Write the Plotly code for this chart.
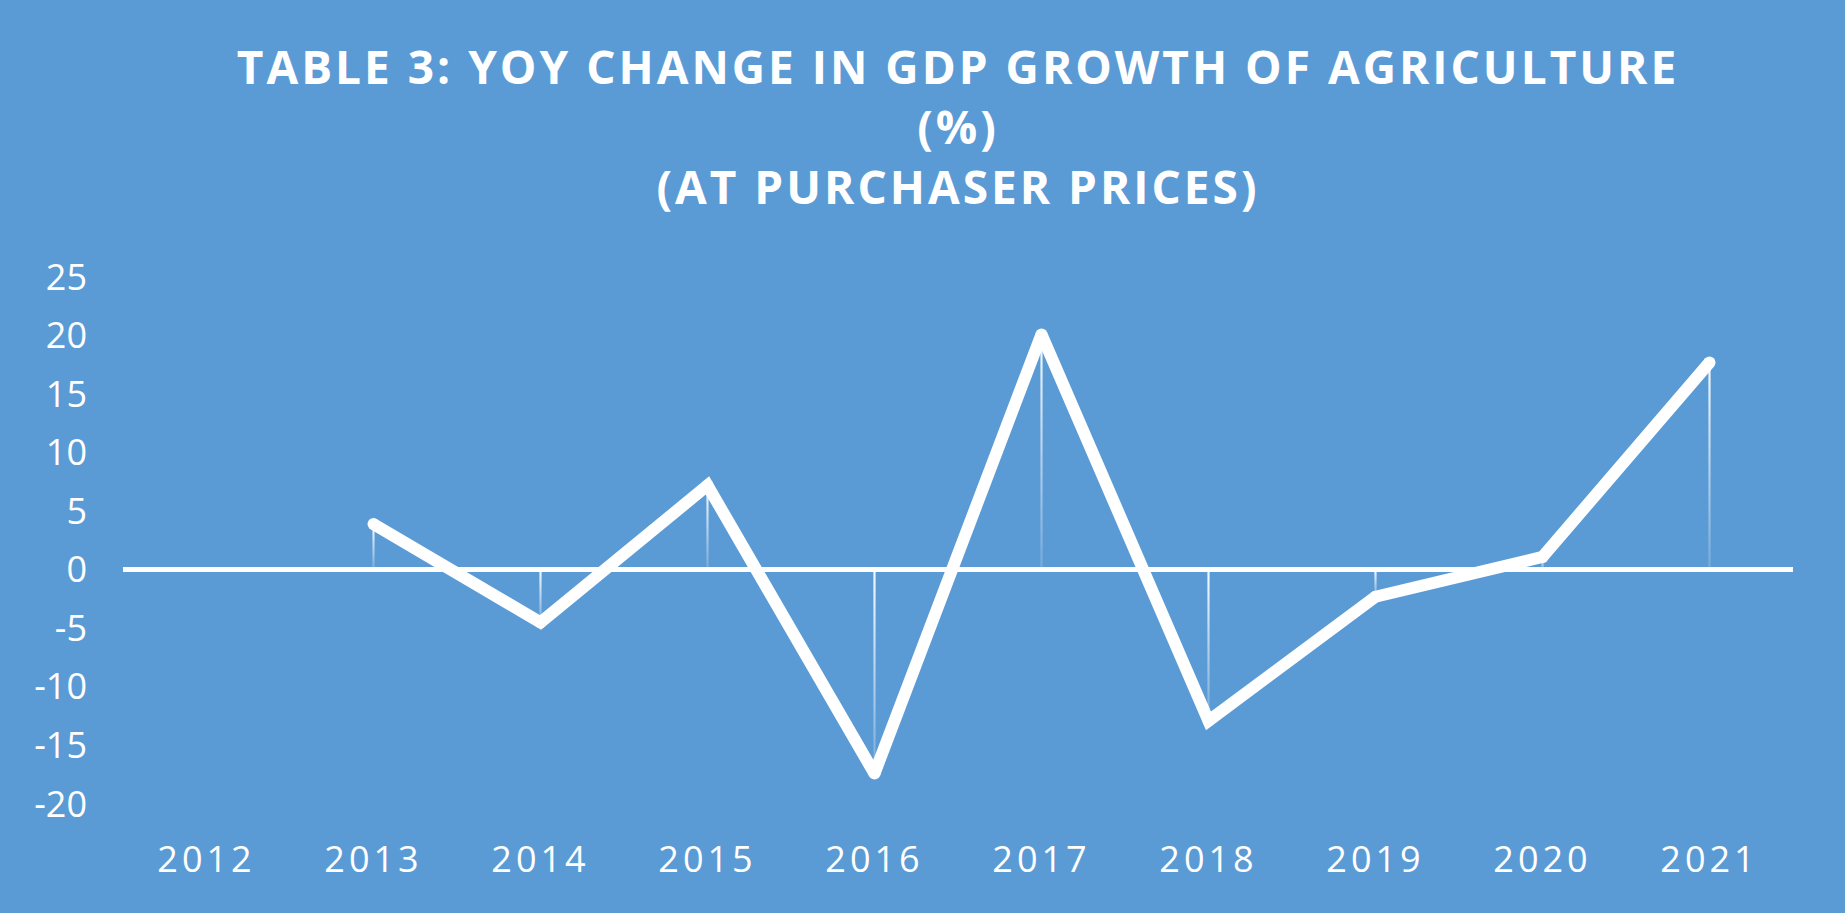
import plotly.graph_objects as go

YEARS = ["2012", "2013", "2014", "2015", "2016", "2017", "2018", "2019", "2020", "2021"]
GROWTH = [None, 3.9, -4.5, 7.2, -17.4, 20.1, -12.9, -2.3, 1.1, 17.7]
Y_TICKS = [-20, -15, -10, -5, 0, 5, 10, 15, 20, 25]

TITLE_LINES = [
    "TABLE 3: YOY CHANGE IN GDP GROWTH OF AGRICULTURE",
    "(%)",
    "(AT PURCHASER PRICES)",
]

BG = "#5B9BD5"
WHITE = "#FFFFFF"
STEM_HALF = 0.0065  # half width of a drop line, in category units (~1px)


def spaced(text, px):
    return f'<span style="letter-spacing:{px}px">{text}</span>'


idx = list(range(len(YEARS)))

fig = go.Figure()

# drop lines from each point to zero, fading from white at the top
for i, v in zip(idx, GROWTH):
    if v is None:
        continue
    lo, hi = min(0, v), max(0, v)
    fig.add_trace(go.Scatter(
        x=[i - STEM_HALF, i + STEM_HALF, i + STEM_HALF, i - STEM_HALF, i - STEM_HALF],
        y=[lo, lo, hi, hi, lo],
        mode="none",
        fill="toself",
        fillgradient=dict(
            type="vertical",
            start=lo, stop=hi,
            colorscale=[[0, "rgba(255,255,255,0.15)"], [1, "rgba(255,255,255,0.95)"]],
        ),
        hoverinfo="skip",
        showlegend=False,
    ))

fig.add_trace(go.Scatter(
    x=idx, y=GROWTH,
    mode="lines+markers",
    line=dict(color=WHITE, width=12),
    marker=dict(color=WHITE, size=12),
    connectgaps=False,
    cliponaxis=False,
    showlegend=False,
))

fig.update_layout(
    width=1845, height=913,
    paper_bgcolor=BG, plot_bgcolor=BG,
    margin=dict(l=123, r=52, t=277, b=109),
    font=dict(family="Open Sans", color=WHITE, size=36),
    title=dict(
        text="<br>".join(spaced(t, 3) for t in TITLE_LINES),
        font=dict(family="Open Sans", size=46, color=WHITE, weight="bold"),
        x=0.5, xanchor="center",
        xref="paper",
        y=1 - 84 / 913, yanchor="top", yref="container",
    ),
    xaxis=dict(
        tickvals=idx,
        ticktext=[spaced(y, 4) for y in YEARS],
        showgrid=False, showline=False, zeroline=False,
        ticks="",
        ticklabelstandoff=31,
        tickfont=dict(size=36, color=WHITE),
        range=[-0.5, len(YEARS) - 0.5],
    ),
    yaxis=dict(
        range=[-20, 25],
        tickvals=Y_TICKS,
        ticktext=[str(v) for v in Y_TICKS],
        showgrid=False, showline=False,
        zeroline=True, zerolinecolor=WHITE, zerolinewidth=5,
        ticks="",
        ticklabelstandoff=35,
        tickfont=dict(size=36, color=WHITE),
    ),
    hovermode=False,
)

# page body has a default 8px margin; drop it so the figure sits at the corner
fig.write_html(
    "out.html",
    config={"displayModeBar": False},
    post_script="document.body.style.margin='0px';",
)
